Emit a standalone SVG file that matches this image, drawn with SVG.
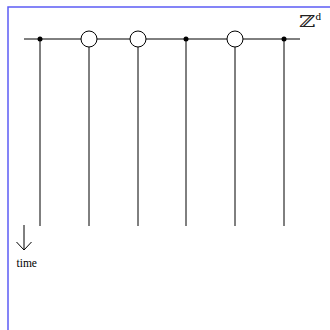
<svg xmlns="http://www.w3.org/2000/svg" width="330" height="330" viewBox="0 0 330 330">
  <style>
    .frame { fill: none; stroke: #5c5cf5; stroke-width: 1.5; }
    .wire { stroke: #000; stroke-width: 1; fill: none; }
    .site { fill: #000; }
    .hole { fill: #fff; stroke: #000; stroke-width: 1; }
    .lbl { font-family: "Liberation Serif", "DejaVu Serif", serif; fill: #000; }
    .bb { font-family: "DejaVu Serif", serif; fill: #222; }
  </style>
  <rect class="frame" x="8" y="7" width="340" height="340"/>
  <g id="connectors">
    <line class="wire" x1="24" y1="39" x2="300" y2="39"/>
    <line class="wire" x1="40" y1="39" x2="40" y2="226"/>
    <line class="wire" x1="89" y1="47" x2="89" y2="226"/>
    <line class="wire" x1="138" y1="47" x2="138" y2="226"/>
    <line class="wire" x1="186" y1="39" x2="186" y2="226"/>
    <line class="wire" x1="235" y1="47" x2="235" y2="226"/>
    <line class="wire" x1="284" y1="39" x2="284" y2="226"/>
    <line class="wire" x1="24" y1="225" x2="24" y2="250"/>
    <polyline class="wire" points="16.5,242 24,250 31.5,242"/>
  </g>
  <g id="site1"><circle class="site" cx="40" cy="39" r="2.5"/></g>
  <g id="site2"><circle class="hole" cx="89" cy="39" r="8"/></g>
  <g id="site3"><circle class="hole" cx="138" cy="39" r="8"/></g>
  <g id="site4"><circle class="site" cx="186" cy="39" r="2.5"/></g>
  <g id="site5"><circle class="hole" cx="235" cy="39" r="8"/></g>
  <g id="site6"><circle class="site" cx="284" cy="39" r="2.5"/></g>
  <g id="time-label"><text class="lbl" x="16.5" y="267" font-size="11.5">time</text></g>
  <g id="lattice-label">
    <text class="bb" transform="translate(299,27) scale(1.4,1)" font-size="16">ℤ</text>
    <text class="lbl" x="315.5" y="20" font-size="11">d</text>
  </g>
</svg>
